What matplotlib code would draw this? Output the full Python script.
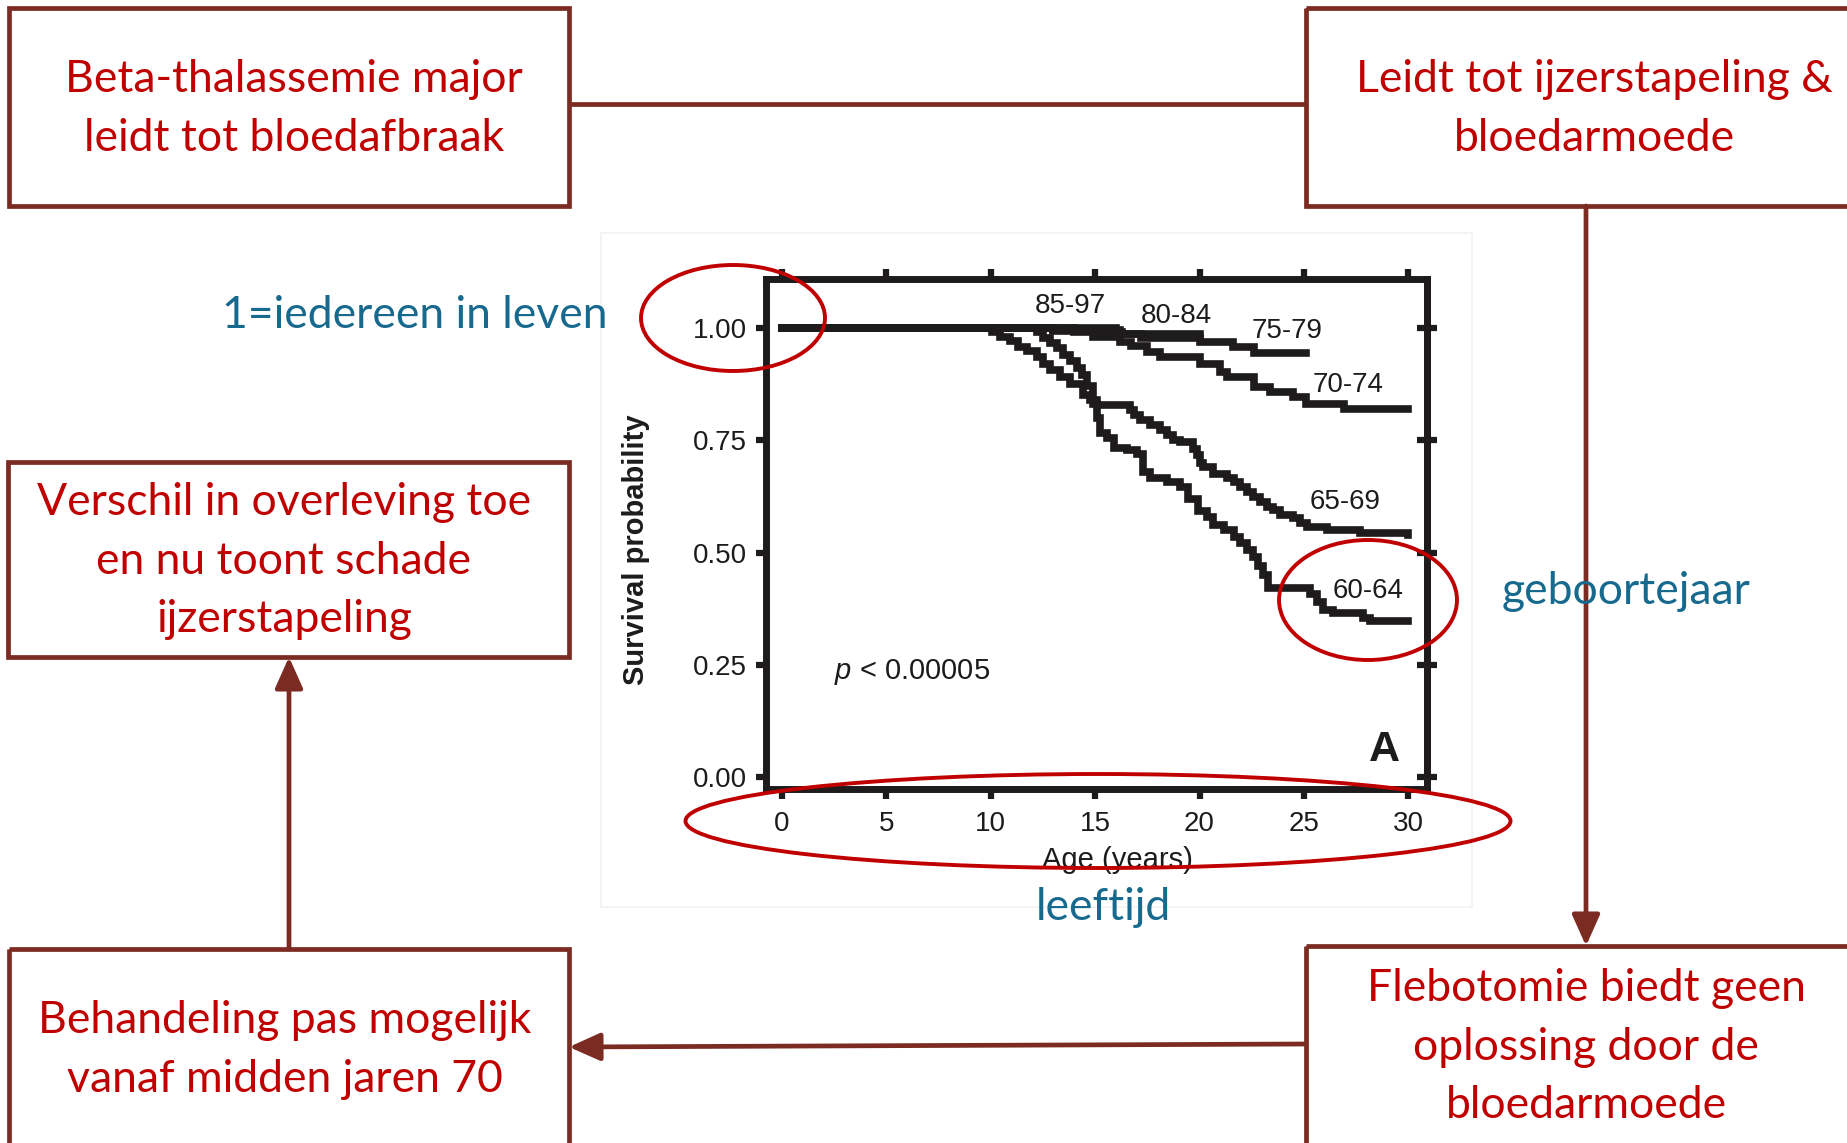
import numpy as np
import matplotlib
matplotlib.use("Agg")
import matplotlib.pyplot as plt
from matplotlib.patches import Rectangle, Ellipse, FancyArrowPatch

# ---- data: Kaplan-Meier curves per birth cohort (age in years, survival after each step)
age_85_97 = [0, 16.0]
surv_85_97 = [1.0, 1.0]

age_80_84 = [0, 14.0, 16.3, 20.0]
surv_80_84 = [1.0, 0.99, 0.985, 0.985]

age_75_79 = [0, 13.0, 16.2, 17.2, 20.0, 21.6, 22.6, 25.1]
surv_75_79 = [1.0, 0.994, 0.985, 0.977, 0.968, 0.957, 0.944, 0.944]

age_70_74 = [0, 13.0, 14.9, 16.2, 16.7, 17.5, 18.1, 20.0, 21.0, 21.3, 22.6, 23.4, 24.5, 25.1, 26.9, 30.0]
surv_70_74 = [1.0, 0.993, 0.98, 0.968, 0.958, 0.946, 0.935, 0.92, 0.902, 0.891, 0.868, 0.857, 0.846, 0.831, 0.818, 0.818]

age_65_69 = [0, 10.05, 10.45, 10.93, 11.32, 11.72, 12.2, 12.52, 12.84, 13.32, 13.8, 14.44, 14.76, 15.08,
             16.67, 16.84, 17.15, 17.63, 18.11, 18.43, 18.75, 19.07, 19.71, 19.87, 20.03, 20.19, 20.67,
             21.31, 21.63, 21.95, 22.27, 22.58, 22.9, 23.22, 23.54, 23.86, 24.5, 24.82, 25.14, 26.1, 27.7, 30.0]
surv_65_69 = [1.0, 0.99, 0.98, 0.97, 0.957, 0.948, 0.935, 0.92, 0.905, 0.89, 0.875, 0.85, 0.839, 0.828,
              0.817, 0.806, 0.794, 0.783, 0.772, 0.761, 0.75, 0.746, 0.731, 0.717, 0.70, 0.69, 0.675,
              0.665, 0.657, 0.646, 0.635, 0.624, 0.613, 0.602, 0.594, 0.583, 0.576, 0.565, 0.557, 0.55, 0.543, 0.539]

age_60_64 = [0, 12.2, 12.52, 12.84, 13.16, 13.48, 13.8, 14.12, 14.36, 14.6, 14.92, 15.08, 15.24, 15.56,
             15.88, 16.52, 17.0, 17.31, 17.63, 18.43, 19.07, 19.47, 19.95, 20.35, 20.67, 21.15, 21.63,
             21.95, 22.27, 22.58, 22.82, 23.06, 23.3, 25.3, 25.62, 25.94, 26.42, 27.85, 28.17, 30.0]
surv_60_64 = [1.0, 0.99, 0.976, 0.965, 0.954, 0.94, 0.926, 0.91, 0.895, 0.87, 0.83, 0.80, 0.765, 0.755,
              0.733, 0.728, 0.72, 0.68, 0.665, 0.657, 0.646, 0.62, 0.593, 0.58, 0.562, 0.55, 0.535,
              0.522, 0.506, 0.49, 0.47, 0.45, 0.422, 0.408, 0.39, 0.372, 0.365, 0.355, 0.348, 0.348]

cohorts = ["85-97", "80-84", "75-79", "70-74", "65-69", "60-64"]
curves = [(age_85_97, surv_85_97), (age_80_84, surv_80_84), (age_75_79, surv_75_79),
          (age_70_74, surv_70_74), (age_65_69, surv_65_69), (age_60_64, surv_60_64)]
label_pos = [(13.8, 1.048), (18.9, 1.026), (24.2, 0.992), (27.1, 0.872), (27.0, 0.612), (28.1, 0.414)]

x_ticks = [0, 5, 10, 15, 20, 25, 30]
y_ticks = [0.00, 0.25, 0.50, 0.75, 1.00]

box_texts = {
    "tl": "Beta-thalassemie major\nleidt tot bloedafbraak",
    "tr": "Leidt tot ijzerstapeling &\nbloedarmoede",
    "ml": "Verschil in overleving toe\nen nu toont schade\nijzerstapeling",
    "bl": "Behandeling pas mogelijk\nvanaf midden jaren 70",
    "br": "Flebotomie biedt geen\noplossing door de\nbloedarmoede",
}

RED = "#C00000"
BROWN = "#7B2B22"
BLUE = "#17698E"
INK = "#1e1b1c"

plt.rcParams["mathtext.fontset"] = "custom"
plt.rcParams["mathtext.it"] = "Liberation Sans:italic"
plt.rcParams["mathtext.rm"] = "Liberation Sans"

W, H = 1847, 1143
fig = plt.figure(figsize=(W / 100, H / 100), dpi=100)

# ---- background diagram (pixel coords)
bg = fig.add_axes([0, 0, 1, 1])
bg.set_xlim(0, W)
bg.set_ylim(H, 0)
bg.axis("off")

# faint frame of the pasted figure
bg.add_patch(Rectangle((601, 233), 871, 674, fill=False, ec="#f2f2f2", lw=1.2))

boxes = {
    "tl": (9, 8, 569, 206),
    "tr": (1306, 8, 1870, 206),
    "ml": (8, 462, 569, 657),
    "bl": (9, 949, 569, 1170),
    "br": (1306, 946, 1870, 1170),
}
for key, (x0, y0, x1, y1) in boxes.items():
    bg.add_patch(Rectangle((x0, y0), x1 - x0, y1 - y0, fill=False, ec=BROWN, lw=3.4,
                           joinstyle="miter"))

text_centers = {"tl": (294, 109), "tr": (1594, 109), "ml": (284, 561), "bl": (285, 1050), "br": (1586, 1047)}
for key, (cx, cy) in text_centers.items():
    bg.text(cx, cy, box_texts[key], ha="center", va="center", color=RED, fontsize=32,
            family="Lato", linespacing=1.52, multialignment="center")

# connectors
bg.plot([569, 1306], [104, 104], color=BROWN, lw=3.4, solid_capstyle="butt")
arrow_kw = dict(arrowstyle="-|>,head_length=1.9,head_width=0.85", color=BROWN, lw=3.4,
                shrinkA=0, shrinkB=0, mutation_scale=10)
bg.add_patch(FancyArrowPatch((1586, 206), (1586, 946), **arrow_kw))
bg.add_patch(FancyArrowPatch((1306, 1044), (569, 1047), **arrow_kw))
bg.add_patch(FancyArrowPatch((289, 949), (289, 657), **arrow_kw))

# ---- survival chart
ax = fig.add_axes([766 / W, 1 - 789 / H, (1427 - 766) / W, (789 - 279) / H])
ax.set_xlim(-0.77, 30.9)
ax.set_ylim(-0.0256, 1.108)
for (xs, ys) in curves:
    ax.step(xs, ys, where="post", color=INK, lw=5.5, solid_joinstyle="miter")
for name, (lx, ly) in zip(cohorts, label_pos):
    ax.text(lx, ly, name, ha="center", va="center", fontsize=20, family="Liberation Sans",
            color=INK)

for sp in ax.spines.values():
    sp.set_linewidth(5)
    sp.set_color(INK)
ax.set_xticks(x_ticks)
ax.set_yticks(y_ticks)
ax.set_yticklabels(["%.2f" % v for v in y_ticks])
ax.tick_params(axis="x", which="both", direction="out", length=7, width=4.5, top=True,
               labeltop=False, labelsize=20, pad=9, colors=INK)
ax.tick_params(axis="y", direction="out", length=7, width=4.5, right=False,
               labelsize=20, pad=7, colors=INK)
for lab in ax.get_xticklabels() + ax.get_yticklabels():
    lab.set_family("Liberation Sans")

sec = ax.secondary_yaxis("right")
sec.set_yticks(y_ticks)
sec.tick_params(direction="inout", length=14, width=4.5, labelright=False, colors=INK)
sec.spines["right"].set_linewidth(5)
sec.spines["right"].set_color(INK)

ax.text(-0.197, 0.47, "Survival probability", transform=ax.transAxes, rotation=90,
        ha="center", va="center", fontsize=21, fontweight="bold", family="Liberation Sans",
        color=INK)
ax.text(0.531, -0.139, "Age (years)", transform=ax.transAxes, ha="center", va="center",
        fontsize=21, family="Liberation Sans", color=INK)
ax.text(2.5, 0.235, r"$p$ < 0.00005", ha="left", va="center", fontsize=21,
        family="Liberation Sans", color=INK)
ax.text(28.85, 0.06, "A", ha="center", va="center", fontsize=31, fontweight="bold",
        family="Liberation Sans", color=INK)

# ---- overlay: annotations and red ellipses
ov = fig.add_axes([0, 0, 1, 1])
ov.set_xlim(0, W)
ov.set_ylim(H, 0)
ov.axis("off")
ov.patch.set_alpha(0)
for (cx, cy, ew, eh) in [(733, 318, 184, 106), (1368, 600, 178, 120), (1098, 821, 825, 94)]:
    ov.add_patch(Ellipse((cx, cy), ew, eh, fill=False, ec=RED, lw=2.8))

ov.text(415, 316, "1=iedereen in leven", ha="center", va="center", color=BLUE, fontsize=32,
        family="Lato")
ov.text(1626, 591, "geboortejaar", ha="center", va="center", color=BLUE, fontsize=32, family="Lato")
ov.text(1103, 908, "leeftijd", ha="center", va="center", color=BLUE, fontsize=32, family="Lato")

fig.savefig("out.png", dpi=100, facecolor="white")
